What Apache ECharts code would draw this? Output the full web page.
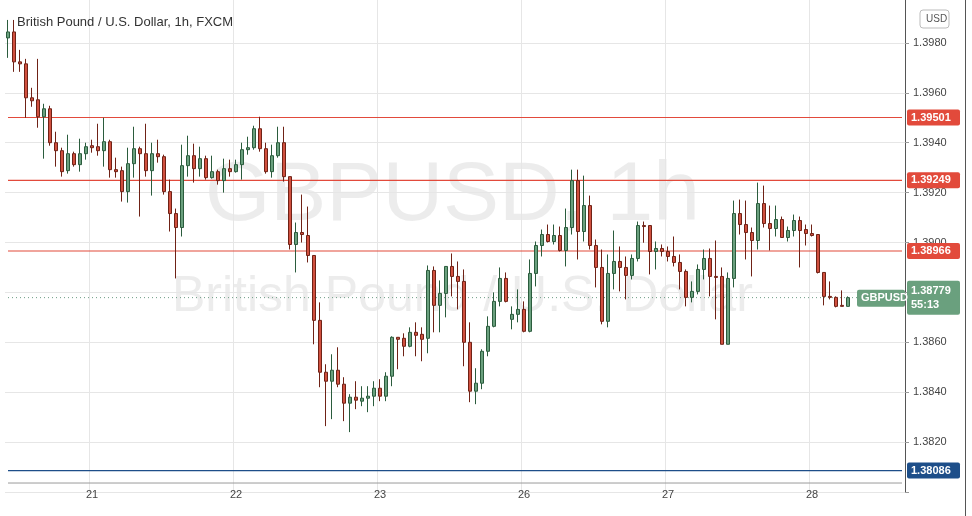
<!DOCTYPE html>
<html><head><meta charset="utf-8">
<script src="https://cdn.jsdelivr.net/npm/echarts@6/dist/echarts.min.js"></script>
<style>html,body{margin:0;padding:0;background:#fff}#c{width:972px;height:516px}</style>
</head><body><div id="c"></div>
<script>
const opens=[1.39820,1.39844,1.39724,1.39716,1.39580,1.39572,1.39504,1.39536,1.39400,1.39368,1.39288,1.39356,1.39312,1.39356,1.39388,1.39384,1.39368,1.39404,1.39292,1.39288,1.39204,1.39316,1.39376,1.39356,1.39288,1.39356,1.39344,1.39204,1.39116,1.39060,1.39308,1.39348,1.39296,1.39336,1.39260,1.39284,1.39248,1.39296,1.39284,1.39312,1.39372,1.39380,1.39456,1.39376,1.39284,1.39348,1.39400,1.39264,1.38992,1.39040,1.39028,1.38948,1.38688,1.38480,1.38444,1.38488,1.38432,1.38356,1.38380,1.38364,1.38376,1.38384,1.38416,1.38384,1.38464,1.38620,1.38616,1.38584,1.38640,1.38632,1.38616,1.38888,1.38748,1.38796,1.38904,1.38864,1.38844,1.38600,1.38404,1.38436,1.38564,1.38664,1.38764,1.38856,1.38692,1.38712,1.38732,1.38644,1.38876,1.38988,1.39032,1.39004,1.39028,1.38968,1.39060,1.39248,1.39044,1.39148,1.38988,1.38900,1.38684,1.38876,1.38924,1.38900,1.38868,1.38936,1.39068,1.39068,1.38964,1.38976,1.38964,1.38944,1.38920,1.38884,1.38780,1.38804,1.38892,1.38936,1.38864,1.38864,1.38592,1.38856,1.39116,1.39072,1.39040,1.39008,1.39156,1.39076,1.39056,1.39092,1.39020,1.39048,1.39088,1.39052,1.39036,1.39032,1.38880,1.38784,1.38780,1.38748,1.38744];
const closes=[1.39844,1.39724,1.39716,1.39580,1.39568,1.39504,1.39536,1.39400,1.39368,1.39284,1.39356,1.39312,1.39356,1.39384,1.39380,1.39368,1.39404,1.39292,1.39284,1.39204,1.39316,1.39376,1.39356,1.39288,1.39356,1.39344,1.39204,1.39116,1.39060,1.39308,1.39348,1.39296,1.39336,1.39260,1.39284,1.39248,1.39296,1.39284,1.39312,1.39372,1.39380,1.39456,1.39376,1.39284,1.39348,1.39400,1.39264,1.38992,1.39040,1.39032,1.38948,1.38688,1.38480,1.38444,1.38488,1.38432,1.38356,1.38380,1.38368,1.38376,1.38384,1.38416,1.38384,1.38464,1.38620,1.38612,1.38584,1.38640,1.38628,1.38612,1.38888,1.38748,1.38796,1.38904,1.38864,1.38844,1.38600,1.38404,1.38436,1.38564,1.38664,1.38764,1.38856,1.38764,1.38712,1.38732,1.38644,1.38876,1.38988,1.39032,1.39004,1.39028,1.38968,1.39060,1.39248,1.39044,1.39148,1.38988,1.38900,1.38684,1.38876,1.38924,1.38900,1.38868,1.38936,1.39068,1.39064,1.38964,1.38976,1.38964,1.38944,1.38920,1.38884,1.38780,1.38804,1.38892,1.38936,1.38864,1.38860,1.38592,1.38856,1.39116,1.39072,1.39040,1.39008,1.39156,1.39076,1.39056,1.39092,1.39020,1.39048,1.39088,1.39048,1.39036,1.39028,1.38880,1.38784,1.38780,1.38744,1.38744,1.38779];
const lows=[1.39740,1.39684,1.39684,1.39500,1.39544,1.39460,1.39336,1.39388,1.39304,1.39264,1.39276,1.39304,1.39284,1.39332,1.39360,1.39348,1.39304,1.39260,1.39260,1.39164,1.39160,1.39260,1.39104,1.39264,1.39188,1.39320,1.39192,1.39044,1.38856,1.39024,1.39264,1.39240,1.39264,1.39252,1.39256,1.39232,1.39200,1.39264,1.39280,1.39252,1.39352,1.39372,1.39364,1.39276,1.39260,1.39340,1.39244,1.38972,1.38880,1.39000,1.38920,1.38592,1.38420,1.38264,1.38292,1.38420,1.38284,1.38240,1.38332,1.38344,1.38320,1.38344,1.38364,1.38364,1.38424,1.38492,1.38544,1.38580,1.38544,1.38524,1.38556,1.38640,1.38640,1.38700,1.38784,1.38732,1.38504,1.38360,1.38352,1.38412,1.38544,1.38660,1.38744,1.38760,1.38652,1.38680,1.38640,1.38640,1.38824,1.38944,1.39000,1.38992,1.38964,1.38904,1.39032,1.38932,1.39004,1.38972,1.38820,1.38672,1.38660,1.38812,1.38804,1.38772,1.38852,1.38924,1.38999,1.38872,1.38892,1.38944,1.38924,1.38904,1.38812,1.38744,1.38760,1.38792,1.38852,1.38784,1.38692,1.38592,1.38592,1.38820,1.39032,1.38932,1.38864,1.38972,1.39060,1.38968,1.39024,1.39020,1.39004,1.39024,1.38900,1.38988,1.39024,1.38876,1.38748,1.38772,1.38740,1.38744,1.38744];
const highs=[1.39892,1.39892,1.39772,1.39736,1.39620,1.39736,1.39556,1.39548,1.39444,1.39380,1.39432,1.39364,1.39416,1.39400,1.39412,1.39476,1.39500,1.39412,1.39340,1.39304,1.39380,1.39464,1.39384,1.39476,1.39400,1.39412,1.39352,1.39252,1.39136,1.39392,1.39428,1.39396,1.39384,1.39348,1.39348,1.39292,1.39336,1.39332,1.39332,1.39400,1.39424,1.39468,1.39504,1.39400,1.39392,1.39464,1.39464,1.39264,1.39080,1.39192,1.39144,1.38948,1.38760,1.38512,1.38552,1.38580,1.38460,1.38392,1.38444,1.38424,1.38424,1.38444,1.38452,1.38480,1.38624,1.38620,1.38636,1.38660,1.38680,1.38660,1.38908,1.38904,1.38848,1.38904,1.38956,1.38924,1.38892,1.38680,1.38496,1.38572,1.38704,1.38800,1.38900,1.38880,1.38744,1.38812,1.38764,1.38932,1.39004,1.39052,1.39072,1.39072,1.39064,1.39136,1.39292,1.39292,1.39268,1.39188,1.39012,1.38972,1.38952,1.39048,1.38984,1.38944,1.38952,1.39084,1.39084,1.39068,1.39004,1.38992,1.38984,1.39024,1.38952,1.38892,1.38844,1.38912,1.38972,1.38976,1.39008,1.38900,1.38880,1.39168,1.39172,1.39168,1.39060,1.39240,1.39228,1.39148,1.39148,1.39104,1.39064,1.39112,1.39104,1.39072,1.39072,1.39032,1.38880,1.38844,1.38784,1.38808,1.38784];
const dayLabels={14:'21',38:'22',62:'23',86:'26',110:'27',134:'28'};
const nCats=150;
const levels=[1.39501,1.39249,1.38966];
const support=1.38086;
const lastPrice=1.38779;
const frameBottom=1.38036;

const cats=[];for(let i=0;i<nCats;i++)cats.push(dayLabels[i]||'');
const data=opens.map((o,i)=>[o,closes[i],lows[i],highs[i]]);
const RED='#e24a3b', BLUE='#1d4e89', GREEN='#6aa07e';
function hLine(v,color,lineStyle,label,z){
  return {type:'line',data:cats.map(()=>v),symbol:'none',silent:true,z:z||2,
    lineStyle:Object.assign({color:color,width:1.2},lineStyle||{}),itemStyle:{color:color},
    endLabel:label===false?{show:false}:Object.assign({show:true,distance:5,color:'#fff',backgroundColor:color,padding:[3,4,2,4],width:45,fontSize:11,fontWeight:'bold',fontFamily:'Arial, Liberation Sans',borderRadius:2,formatter:v.toFixed(5)},label||{})};
}
const series=[{type:'candlestick',data:data,barWidth:4,z:3,
  itemStyle:{color:GREEN,color0:'#d0503f',borderColor:'#2b5c3d',borderColor0:'#6f2216',borderWidth:1}}];
levels.forEach(v=>series.push(hLine(v,RED)));
series.push(hLine(support,BLUE));
series.push(hLine(lastPrice,GREEN,{color:'#6d9c84',width:1,type:[1,3]},{padding:[3,4,3,4],lineHeight:14,formatter:lastPrice.toFixed(5)+'\n55:13'}));
series.push(hLine(frameBottom,'#9a9a9a',{width:1},false,1));

const baseGraphic=[
  {id:'wm1',type:'text',x:205,y:155,style:{text:'GBPUSD, 1h',fontSize:84,fill:'rgba(200,200,200,0.35)',fontFamily:'Arial, Liberation Sans'},z:0,silent:true},
  {id:'wm2',type:'text',x:172,y:272,style:{text:'British Pound / U.S. Dollar',fontSize:50,fill:'rgba(200,200,200,0.35)',fontFamily:'Arial, Liberation Sans'},z:0,silent:true},
  {id:'usdb',type:'rect',shape:{x:920,y:10,width:29,height:18,r:3},style:{fill:'#fff',stroke:'#bbb'}},
  {id:'usdt',type:'text',x:926,y:14,style:{text:'USD',fontSize:10,fill:'#555'}},
  {id:'rb',type:'line',shape:{x1:965.5,y1:0,x2:965.5,y2:516},style:{stroke:'#555',lineWidth:1}}
];
const chart=echarts.init(document.getElementById('c'));
chart.setOption({
  animation:false,
  textStyle:{fontFamily:'Arial, Liberation Sans, sans-serif'},
  title:{text:'British Pound / U.S. Dollar, 1h, FXCM',left:12,top:11,textStyle:{fontSize:13,fontWeight:'normal',color:'#333'}},
  graphic:baseGraphic,
  grid:{left:5,right:67,top:-7,bottom:24,outerBoundsMode:'none',containLabel:false},
  xAxis:{type:'category',data:cats,boundaryGap:true,
    axisLine:{show:false},axisTick:{show:false},
    axisLabel:{interval:(i,v)=>v!=='',margin:-3,color:'#444',fontSize:11},
    splitLine:{show:true,interval:(i,v)=>v!=='',lineStyle:{color:'#e6e6e6'}}},
  yAxis:{type:'value',position:'right',min:1.3800,max:1.4000,interval:0.002,
    axisLine:{show:true,lineStyle:{color:'#555'}},axisTick:{show:true,length:4,lineStyle:{color:'#9a9a9a'}},
    axisLabel:{color:'#444',fontSize:11,margin:8,formatter:v=>(v<1.381||v>1.399)?'':v.toFixed(4)},
    splitLine:{show:true,lineStyle:{color:'#e6e6e6'}}},
  series:series
});
const py=chart.convertToPixel({yAxisIndex:0},lastPrice);
chart.setOption({graphic:baseGraphic.concat([
  {id:'tagb',type:'rect',shape:{x:857,y:py-8,width:48,height:17,r:2},style:{fill:GREEN},z:10},
  {id:'tagt',type:'text',x:861,y:py-5,style:{text:'GBPUSD',fontSize:11,fontWeight:'bold',fill:'#fff',fontFamily:'Arial, Liberation Sans'},z:11}
])});
</script></body></html>
